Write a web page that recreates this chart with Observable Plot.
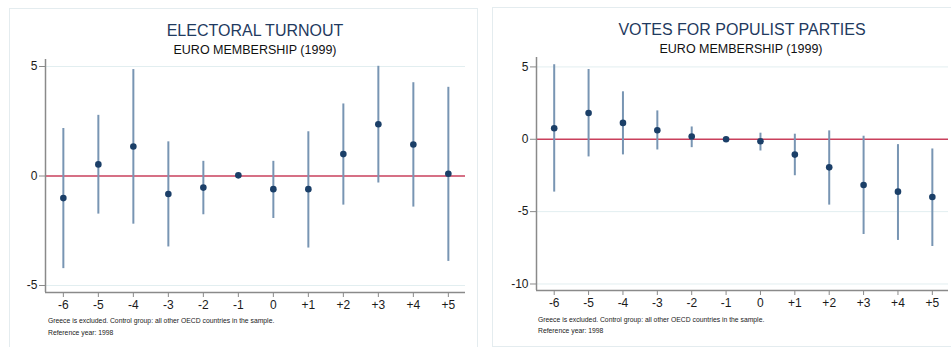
<!DOCTYPE html>
<html>
<head>
<meta charset="utf-8">
<script src="https://cdn.jsdelivr.net/npm/d3@7"></script>
<script src="https://cdn.jsdelivr.net/npm/@observablehq/plot@0.6"></script>
<style>
  html, body { margin: 0; padding: 0; background: #fff; }
  body { width: 951px; height: 347px; position: relative; overflow: hidden; font-family: "Liberation Sans", Arial, sans-serif; }
  .panel { position: absolute; border: 1px solid #e4ecef; box-sizing: border-box; }
  .abs { position: absolute; white-space: nowrap; }
  .title { font-size: 16px; line-height: 16px; color: #1f3a60; text-align: center; transform: translateX(-50%); }
  .sub { font-size: 12.5px; line-height: 12.5px; color: #111; text-align: center; transform: translateX(-50%); }
  .cap { font-size: 6.8px; line-height: 7px; color: #222; }
  .plotwrap svg { overflow: visible; }
  .plotwrap g[aria-label$="tick"] path, .plotwrap .tick line { stroke: #8a8a8a; }
</style>
</head>
<body>
<div class="panel" style="left:9px;top:8px;width:469px;height:345px;"></div>
<div class="panel" style="left:492px;top:7px;width:462px;height:340px;"></div>

<div class="abs title" style="left:255px;top:23px;">ELECTORAL TURNOUT</div>
<div class="abs sub" style="left:255px;top:44px;">EURO MEMBERSHIP (1999)</div>
<div class="abs title" style="left:742px;top:22px;">VOTES FOR POPULIST PARTIES</div>
<div class="abs sub" style="left:741px;top:43px;">EURO MEMBERSHIP (1999)</div>

<div id="left" class="abs plotwrap" style="left:9px;top:8px;"></div>
<div id="right" class="abs plotwrap" style="left:492px;top:7px;"></div>

<div class="abs cap" style="left:48px;top:317px;">Greece is excluded. Control group: all other OECD countries in the sample.</div>
<div class="abs cap" style="left:48px;top:328.5px;">Reference year: 1998</div>
<div class="abs cap" style="left:538px;top:315.5px;">Greece is excluded. Control group: all other OECD countries in the sample.</div>
<div class="abs cap" style="left:538px;top:326.5px;">Reference year: 1998</div>

<script>
// ---- data ----
const periods = [-6, -5, -4, -3, -2, -1, 0, 1, 2, 3, 4, 5];
const periodLabels = ["-6", "-5", "-4", "-3", "-2", "-1", "0", "+1", "+2", "+3", "+4", "+5"];

const turnoutEst = [-1.01, 0.53, 1.35, -0.82, -0.53, 0.03, -0.60, -0.60, 1.00, 2.36, 1.44, 0.10];
const turnoutHi  = [2.17, 2.77, 4.86, 1.56, 0.67, null, 0.67, 2.02, 3.29, 5.01, 4.26, 4.05];
const turnoutLo  = [-4.23, -1.74, -2.20, -3.24, -1.77, null, -1.94, -3.29, -1.33, -0.32, -1.42, -3.90];
const turnoutTicks = [-5, 0, 5];

const populistEst = [0.76, 1.82, 1.13, 0.62, 0.19, 0.00, -0.14, -1.06, -1.94, -3.16, -3.62, -3.99];
const populistHi  = [5.15, 4.82, 3.28, 1.96, 0.85, null, 0.42, 0.35, 0.58, 0.21, -0.37, -0.67];
const populistLo  = [-3.65, -1.22, -1.08, -0.74, -0.58, null, -0.81, -2.52, -4.55, -6.58, -6.99, -7.41];
const populistTicks = [-10, -5, 0, 5];

function rows(est, lo, hi) {
  return periods.map((p, i) => ({p, est: est[i], lo: lo[i], hi: hi[i]}));
}

function panel(data, yTicks, cfg) {
  const ci = data.filter(d => d.lo != null);
  const gridVals = yTicks.filter(v => v !== 0);
  return Plot.plot({
    width: cfg.width,
    height: cfg.height,
    marginLeft: cfg.ml,
    marginRight: cfg.mr,
    marginTop: cfg.mt,
    marginBottom: cfg.mb,
    style: {fontFamily: "'Liberation Sans', Arial, sans-serif", fontSize: "12px", color: "#1a1a1a", background: "transparent"},
    x: {domain: cfg.xDomain, ticks: periods, tickFormat: d => periodLabels[periods.indexOf(d)], tickSize: 5, tickPadding: 3, label: null},
    y: {domain: cfg.yDomain, ticks: yTicks, tickFormat: d => String(d), tickSize: 6, tickPadding: 2, label: null},
    marks: [
      Plot.ruleY(gridVals, {stroke: "#e2eef0", strokeWidth: 1}),
      Plot.ruleY([0], {stroke: "#c9405c", strokeWidth: 1.4}),
      Plot.ruleX(ci, {x: "p", y1: "lo", y2: "hi", stroke: "#7895b3", strokeWidth: 2}),
      Plot.dot(data, {x: "p", y: "est", r: 3.3, fill: "#1b3f68", stroke: "none"}),
      Plot.ruleX([cfg.xDomain[0]], {stroke: "#8a8a8a", strokeWidth: 1.5}),
      Plot.ruleY([cfg.yDomain[0]], {stroke: "#8a8a8a", strokeWidth: 1.5})
    ]
  });
}

document.getElementById("left").append(panel(rows(turnoutEst, turnoutLo, turnoutHi), turnoutTicks, {
  width: 468, height: 339, ml: 36, mr: 12, mt: 51, mb: 55,
  xDomain: [-6.51, 5.49], yDomain: [-5.32, 5.32]
}));

document.getElementById("right").append(panel(rows(populistEst, populistLo, populistHi), populistTicks, {
  width: 459, height: 339, ml: 44, mr: 3, mt: 50, mb: 56,
  xDomain: [-6.515, 5.47], yDomain: [-10.45, 5.65]
}));
</script>
</body>
</html>
